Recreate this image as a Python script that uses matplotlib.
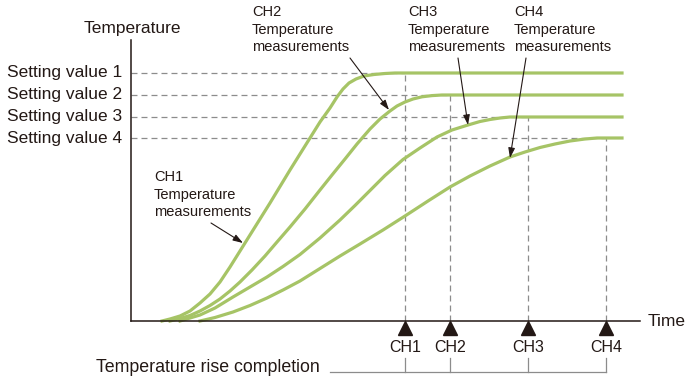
import matplotlib.pyplot as plt

plt.rcParams['font.family'] = ['Liberation Sans', 'DejaVu Sans']
plt.rcParams['lines.scale_dashes'] = False

# chart units: time from the axis origin, temperature above the time axis
ch1_t = [31, 39, 49, 59, 69, 79, 89, 99, 109, 124, 139, 159, 174, 189, 199, 206,
         212, 218, 225, 233, 243, 254, 264, 491]
ch1_T = [0, 2, 5, 10, 18, 27, 39, 54, 70, 94, 118, 151, 175, 199, 213, 224,
         232, 238, 242, 245, 246.5, 247.5, 248, 248]

ch2_t = [39, 49, 59, 69, 79, 89, 99, 109, 121, 134, 146, 159, 174, 189, 201, 214,
         226, 239, 249, 259, 266, 274, 282, 291, 301, 311, 491]
ch2_T = [0, 2.5, 5.5, 10, 15.5, 22, 30, 39, 51, 65, 79, 94, 112, 131, 146, 162,
         177, 192, 202, 210, 215, 219, 222, 224.2, 225.4, 226, 226]

ch3_t = [49, 59, 69, 84, 102, 119, 136, 152, 169, 189, 209, 224, 239, 254, 272,
         289, 306, 321, 337, 349, 359, 369, 379, 491]
ch3_T = [0, 3, 6, 13, 24, 34, 44, 54.5, 66.5, 83, 101, 115.5, 130.5, 145.5, 161.5,
         173, 184, 191, 196, 199.5, 201.5, 203, 204, 204]

ch4_t = [69, 84, 102, 119, 136, 152, 169, 189, 209, 229, 252, 274, 297, 319, 339,
         359, 379, 394, 409, 424, 439, 454, 466, 491]
ch4_T = [0, 3.5, 9, 15.5, 23, 31, 40, 52.5, 65, 77, 91, 105, 120, 134, 145,
         155, 164, 169, 173.5, 177, 180, 182, 183, 183]

setting_labels = ['Setting value 1', 'Setting value 2', 'Setting value 3', 'Setting value 4']
setting_values = [248, 226, 204, 183]
channels = ['CH1', 'CH2', 'CH3', 'CH4']
completion_times = [274, 319, 397, 475]

green = '#a6c466'
dark = '#231815'
grey = '#8c8c8c'

fig = plt.figure(figsize=(6.9, 3.84), dpi=100)
ax = fig.add_axes([0, 0, 1, 1])
ax.set_xlim(-131, 559)
ax.set_ylim(-63, 321)
ax.axis('off')

# dashed guides
for val, tc in zip(setting_values, completion_times):
    ax.plot([0, tc], [val, val], color=grey, lw=0.9, dashes=(4.3, 2.9), zorder=1)
    ax.plot([tc, tc], [0, val], color=grey, lw=0.9, dashes=(4.3, 2.9), zorder=1)

# temperature curves
for t, T in [(ch1_t, ch1_T), (ch2_t, ch2_T), (ch3_t, ch3_T), (ch4_t, ch4_T)]:
    ax.plot(t, T, color=green, lw=2.3, solid_joinstyle='round', zorder=2)

# axes
ax.plot([0, 0], [0, 281], color=dark, lw=1.1, zorder=3)
ax.plot([0, 509], [0, 0], color=dark, lw=1.1, zorder=3)
ax.text(1, 293, 'Temperature', ha='center', va='center', fontsize=12.5, color=dark)
ax.text(517, 0, 'Time', ha='left', va='center', fontsize=12.5, color=dark)

for lab, val in zip(setting_labels, setting_values):
    ax.text(-9, val, lab, ha='right', va='center', fontsize=12.5, color=dark)

# completion markers
ax.plot(completion_times, [-6.5] * 4, ls='none', marker='^', ms=9.5, color=dark, zorder=3)
for ch, tc in zip(channels, completion_times):
    ax.text(tc, -26, ch, ha='center', va='center', fontsize=11.5, color=dark,
            family=['Liberation Sans Narrow', 'Liberation Sans'])
    ax.plot([tc, tc], [-37, -51], color=grey, lw=0.9)
ax.plot([199, completion_times[-1]], [-51, -51], color=grey, lw=0.9)
ax.text(-35, -47, 'Temperature rise completion', ha='left', va='center',
        fontsize=12.8, color=dark)

# curve labels with arrows
label_pos = [(23, 151), (121, 316), (277, 316), (383, 316)]
arrow_from = [(80, 98), (219, 263), (327, 263), (395, 263)]
arrow_to = [(112, 78), (258, 211), (337, 196), (379, 163)]
for ch, pos, a0, a1 in zip(channels, label_pos, arrow_from, arrow_to):
    ax.text(pos[0], pos[1], ch + '\nTemperature\nmeasurements', ha='left', va='top',
            fontsize=10.5, color=dark, linespacing=1.32)
    ax.annotate('', xy=a1, xytext=a0,
                arrowprops=dict(arrowstyle='-|>,head_length=0.6,head_width=0.2',
                                color=dark, lw=0.8, mutation_scale=10,
                                shrinkA=0, shrinkB=0))

fig.savefig('out.png', dpi=100)
